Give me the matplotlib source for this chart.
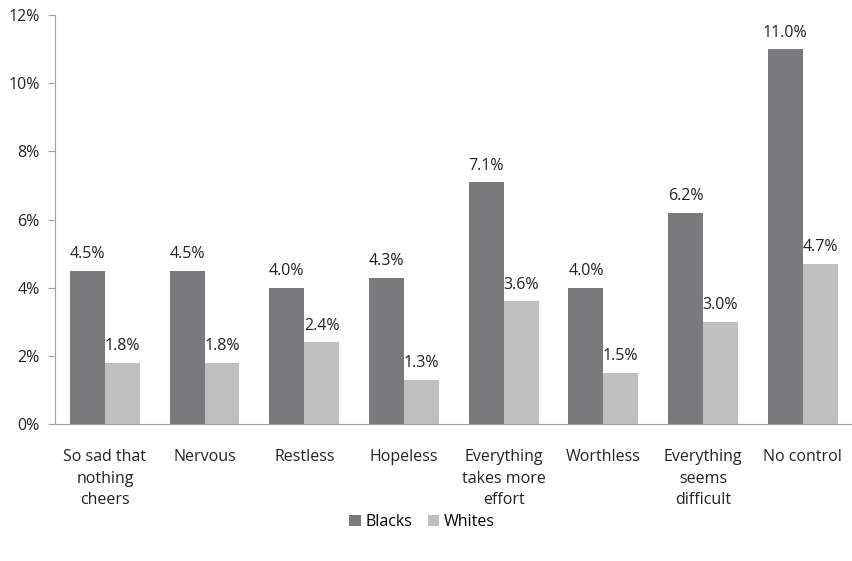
import numpy as np
import matplotlib.pyplot as plt

plt.rcParams['font.family'] = ['Open Sans', 'DejaVu Sans']

categories = ["So sad that\nnothing\ncheers", "Nervous", "Restless", "Hopeless",
              "Everything\ntakes more\neffort", "Worthless", "Everything\nseems\ndifficult",
              "No control"]
blacks = [4.5, 4.5, 4.0, 4.3, 7.1, 4.0, 6.2, 11.0]
whites = [1.8, 1.8, 2.4, 1.3, 3.6, 1.5, 3.0, 4.7]

fig = plt.figure(figsize=(8.53, 5.61), dpi=100)
ax = fig.add_axes([0.0645, 0.244, 0.935, 0.729])

x = np.arange(len(categories))
w = 0.35
b1 = ax.bar(x - w / 2, blacks, w, color='#7a7a7c', label='Blacks')
b2 = ax.bar(x + w / 2, whites, w, color='#bfbfbf', label='Whites')

for rect, v in zip(b1, blacks):
    ax.text(rect.get_x() + rect.get_width() / 2, v + 0.25, f"{v:.1f}%",
            ha='center', va='bottom', fontsize=11.5, color='#222222')
for rect, v in zip(b2, whites):
    ax.text(rect.get_x() + rect.get_width() / 2, v + 0.25, f"{v:.1f}%",
            ha='center', va='bottom', fontsize=11.5, color='#222222')

ax.set_xlim(-0.5, len(categories) - 0.5)
ax.set_ylim(0, 12)
ax.set_yticks(range(0, 13, 2))
ax.set_yticklabels([f"{t}%" for t in range(0, 13, 2)], fontsize=11.5, color='#222222')
ax.set_xticks(x)
ax.set_xticklabels(categories, fontsize=11.5, color='#222222', va='top', linespacing=1.45)
ax.tick_params(axis='x', length=0, pad=18)
ax.tick_params(axis='y', length=5, color='#a0a0a0', pad=6)

for s in ['top', 'right']:
    ax.spines[s].set_visible(False)
ax.spines['left'].set_color('#a0a0a0')
ax.spines['bottom'].set_color('#a0a0a0')

fig.legend(handles=[b1, b2], loc='center', bbox_to_anchor=(0.495, 0.07), ncol=2,
           frameon=False, fontsize=11.5, handlelength=0.7, handleheight=0.7,
           handletextpad=0.3, columnspacing=1.0)

fig.savefig('out.png', dpi=100)
